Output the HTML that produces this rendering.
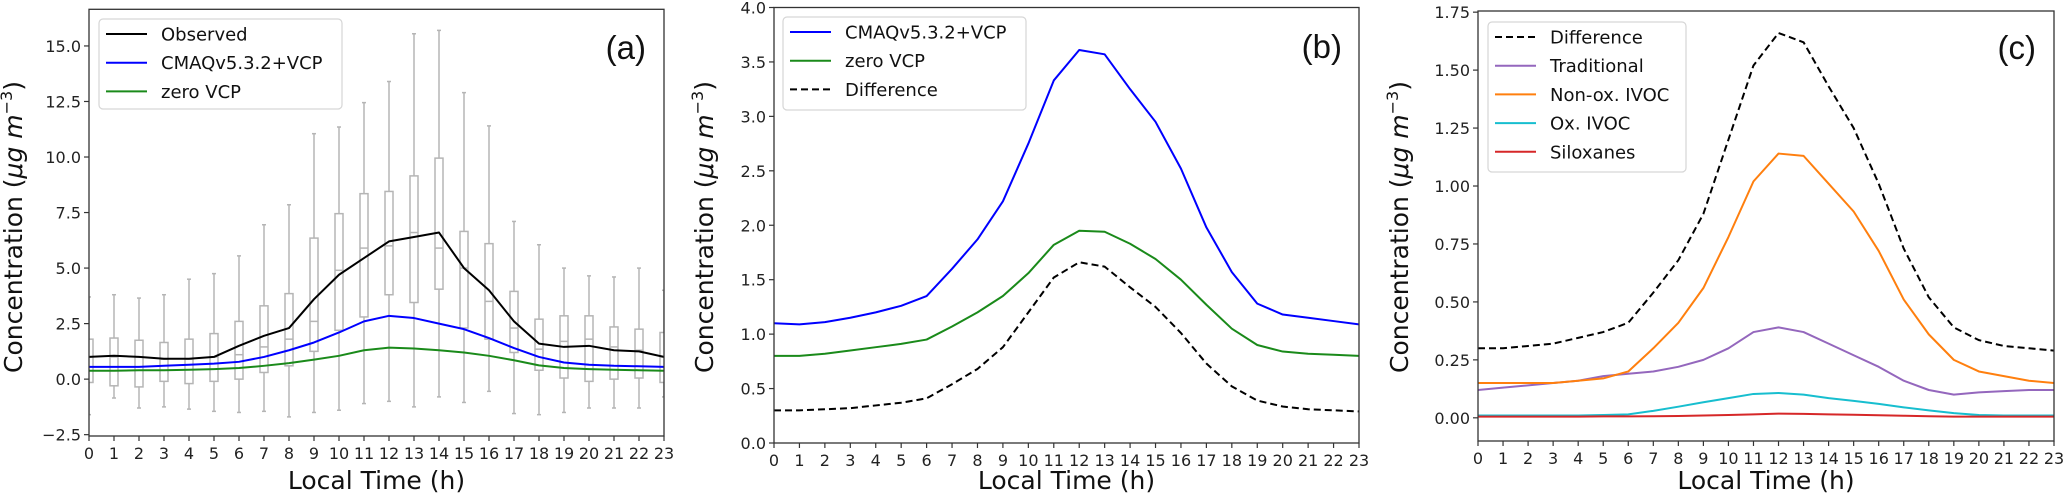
<!DOCTYPE html>
<html><head><meta charset="utf-8">
<style>
html,body{margin:0;padding:0;background:#fff;}
svg{display:block;font-family:"DejaVu Sans","Liberation Sans",sans-serif;}
</style></head>
<body>
<svg id="fig" width="2067" height="503" viewBox="0 0 2067 503" xmlns="http://www.w3.org/2000/svg"></svg>
<script>
// ---------- data ----------
const hours = [0,1,2,3,4,5,6,7,8,9,10,11,12,13,14,15,16,17,18,19,20,21,22,23];
// panel (a)
const observed = [1.0,1.05,1.0,0.92,0.92,1.0,1.5,1.95,2.3,3.6,4.7,5.45,6.2,6.4,6.6,5.0,4.0,2.6,1.6,1.45,1.5,1.3,1.25,1.0];
const cmaqA = [0.55,0.55,0.55,0.6,0.65,0.7,0.78,1.0,1.3,1.65,2.1,2.6,2.85,2.75,2.5,2.25,1.85,1.4,1.0,0.75,0.65,0.6,0.58,0.55];
const zeroA = [0.38,0.38,0.4,0.4,0.42,0.45,0.5,0.6,0.72,0.88,1.05,1.3,1.42,1.38,1.3,1.2,1.05,0.85,0.62,0.5,0.45,0.42,0.4,0.38];
const boxLow = [-1.6,-0.85,-1.3,-1.25,-1.35,-1.45,-1.5,-1.45,-1.7,-1.5,-1.4,-1.1,-1.0,-1.25,-0.8,-1.05,-0.55,-1.55,-1.6,-1.5,-1.3,-1.3,-1.3,-0.8];
const boxQ1 = [-0.15,-0.3,-0.35,-0.1,-0.2,-0.1,0.0,0.3,0.6,1.25,2.2,2.8,3.8,3.45,4.05,2.3,1.8,1.2,0.4,0.05,-0.1,0.0,0.05,-0.15];
const boxMed = [1.0,1.0,1.0,0.9,0.9,1.0,1.1,1.45,1.8,2.6,4.9,5.9,6.0,6.6,5.9,5.0,3.5,2.3,1.35,1.7,1.8,1.45,1.3,1.0];
const boxQ3 = [1.8,1.85,1.75,1.65,1.8,2.05,2.6,3.3,3.85,6.35,7.45,8.35,8.45,9.15,9.95,6.65,6.1,3.95,2.7,2.85,2.85,2.35,2.25,2.1];
const boxHigh = [3.7,3.8,3.65,3.8,4.5,4.75,5.55,6.95,7.85,11.05,11.35,12.45,13.4,15.55,15.7,12.9,11.4,7.1,6.05,5.0,4.65,4.6,5.0,4.0];
const ticksA = [-2.5,0.0,2.5,5.0,7.5,10.0,12.5,15.0];
// panel (b)
const cmaqB = [1.1,1.09,1.11,1.15,1.2,1.26,1.35,1.6,1.87,2.22,2.75,3.33,3.61,3.57,3.25,2.95,2.52,1.98,1.57,1.28,1.18,1.15,1.12,1.09];
const zeroB = [0.8,0.8,0.82,0.85,0.88,0.91,0.95,1.07,1.2,1.35,1.56,1.82,1.95,1.94,1.83,1.69,1.5,1.27,1.05,0.9,0.84,0.82,0.81,0.8];
const diff = [0.3,0.3,0.31,0.32,0.345,0.37,0.41,0.54,0.68,0.88,1.2,1.52,1.66,1.62,1.43,1.25,1.01,0.73,0.52,0.39,0.335,0.31,0.3,0.29];
const ticksB = [0.0,0.5,1.0,1.5,2.0,2.5,3.0,3.5,4.0];
// panel (c)
const traditional = [0.12,0.13,0.14,0.15,0.16,0.18,0.19,0.2,0.22,0.25,0.3,0.37,0.39,0.37,0.32,0.27,0.22,0.16,0.12,0.1,0.11,0.115,0.12,0.12];
const nonOx = [0.15,0.15,0.15,0.15,0.16,0.17,0.2,0.3,0.41,0.56,0.78,1.02,1.14,1.13,1.01,0.89,0.72,0.51,0.36,0.25,0.2,0.18,0.16,0.15];
const oxIvoc = [0.01,0.01,0.01,0.01,0.01,0.012,0.015,0.03,0.048,0.067,0.085,0.103,0.107,0.1,0.085,0.073,0.06,0.045,0.032,0.02,0.012,0.01,0.01,0.01];
const siloxanes = [0.005,0.005,0.005,0.005,0.005,0.006,0.006,0.007,0.008,0.01,0.012,0.015,0.018,0.017,0.015,0.013,0.011,0.009,0.007,0.005,0.005,0.005,0.005,0.005];
const ticksC = [0.00,0.25,0.50,0.75,1.00,1.25,1.50,1.75];

// ---------- helpers ----------
const NS = "http://www.w3.org/2000/svg";
const svg = document.getElementById('fig');
function mk(tag, attrs, parent){
  const e = document.createElementNS(NS, tag);
  for (const k in attrs) e.setAttribute(k, attrs[k]);
  (parent||svg).appendChild(e);
  return e;
}
function makeScales(x0,x1,y0px,y1px,vmin,vmax){
  return {
    x: h => x0 + (h-0)/(23-0)*(x1-x0),
    y: v => y1px - (v-vmin)/(vmax-vmin)*(y1px-y0px)
  };
}
function drawAxes(p, sc, yTicks, fmt, name){
  const g = mk('g',{});
  
  
  hours.forEach(h=>{
    const x = sc.x(h);
    mk('line',{x1:x,x2:x,y1:p.bottom,y2:p.bottom+5,stroke:'#333','stroke-width':1.2},g);
    const t = mk('text',{x:x,y:p.bottom+23,'font-size':16,'text-anchor':'middle',fill:'#222'},g);
    t.textContent = h;
    
    
  });
  yTicks.forEach(v=>{
    const y = sc.y(v);
    mk('line',{x1:p.left-5,x2:p.left,y1:y,y2:y,stroke:'#333','stroke-width':1.2},g);
    const t = mk('text',{x:p.left-8,y:y+6,'font-size':16,'text-anchor':'end',fill:'#222'},g);
    t.textContent = fmt(v);
    
    
  });
  const xl = mk('text',{x:(p.left+p.right)/2,y:489,'font-size':25,'text-anchor':'middle',fill:'#111'},g);
  xl.textContent = 'Local Time (h)';
  
  
  const yl = mk('text',{transform:`translate(${p.ylabX},227) rotate(-90)`,'font-size':25,'text-anchor':'middle',fill:'#111'},g);
  yl.innerHTML = 'Concentration (<tspan font-style="italic">μg m</tspan><tspan dy="-10" font-size="16">−3</tspan><tspan dy="10">)</tspan>';
  
  
}
function frame(p,name){
  const r = mk('rect',{x:p.left,y:p.top,width:p.right-p.left,height:p.bottom-p.top,fill:'none',stroke:'#333','stroke-width':1.3});
  
  
}
function line(sc, vals, color, name, dash, clip){
  const d = vals.map((v,i)=>(i?'L':'M')+sc.x(hours[i]).toFixed(2)+','+sc.y(v).toFixed(2)).join(' ');
  const a = {d:d,fill:'none',stroke:color,'stroke-width':2,'stroke-linejoin':'round'};
  if (dash) a['stroke-dasharray']=dash;
  if (clip) a['clip-path']='url(#'+clip+')';
  const e = mk('path',a);
  
  
}
function legend(x,y,w,h,entries,name){
  const g = mk('g',{});
  
  
  mk('rect',{x:x,y:y,width:w,height:h,rx:4,fill:'#fff','fill-opacity':0.85,stroke:'#d6d6d6','stroke-width':1.2},g);
  entries.forEach((en,i)=>{
    const cy = y+15+i*28.7;
    const a = {x1:x+7,x2:x+48,y1:cy,y2:cy,stroke:en.c,'stroke-width':2};
    if (en.dash) a['stroke-dasharray']=en.dash;
    const l = mk('line',a,g);
    
    
    const t = mk('text',{x:x+62,y:cy+6.5,'font-size':18,fill:'#111'},g);
    t.textContent = en.t;
    
    
  });
}
function panelLabel(x,y,txt){
  const t = mk('text',{x:x,y:y,'font-size':33,'text-anchor':'end',fill:'#111','font-family':'Liberation Sans, sans-serif'});
  t.textContent = txt;
  
  
}

const defs = mk('defs',{});
function clipRect(id,p){ const c = mk('clipPath',{id:id},defs); mk('rect',{x:p.left,y:p.top,width:p.right-p.left,height:p.bottom-p.top},c); }

// ---------- panel (a) ----------
const pA = {left:89,right:664,top:9.3,bottom:436,ylabX:22};
const sA = makeScales(pA.left,pA.right,pA.top,pA.bottom,-2.56,16.65);
clipRect('clipA',pA);
const gBox = mk('g',{'clip-path':'url(#clipA)',stroke:'#b5b5b5','stroke-width':1.5,fill:'none'});


hours.forEach((h,i)=>{
  const x = sA.x(h), bw = 4;
  const b = mk('g',{},gBox);
  
  
  mk('line',{x1:x,x2:x,y1:sA.y(boxLow[i]),y2:sA.y(boxQ1[i])},b);
  mk('line',{x1:x,x2:x,y1:sA.y(boxQ3[i]),y2:sA.y(boxHigh[i])},b);
  mk('line',{x1:x-2,x2:x+2,y1:sA.y(boxLow[i]),y2:sA.y(boxLow[i])},b);
  mk('line',{x1:x-2,x2:x+2,y1:sA.y(boxHigh[i]),y2:sA.y(boxHigh[i])},b);
  mk('rect',{x:x-bw,y:sA.y(boxQ3[i]),width:2*bw,height:sA.y(boxQ1[i])-sA.y(boxQ3[i])},b);
  mk('line',{x1:x-bw,x2:x+bw,y1:sA.y(boxMed[i]),y2:sA.y(boxMed[i])},b);
});
line(sA, zeroA, '#1a8a1a', 'zero-vcp-line-a', null, 'clipA');
line(sA, cmaqA, '#0000ff', 'cmaq-vcp-line-a', null, 'clipA');
line(sA, observed, '#000000', 'observed-line', null, 'clipA');
frame(pA,'panel-a');
drawAxes(pA, sA, ticksA, v=>v.toFixed(1).replace('-','−'), 'panel-a');
legend(99,19,243,90,[{t:'Observed',c:'#000'},{t:'CMAQv5.3.2+VCP',c:'#0000ff'},{t:'zero VCP',c:'#1a8a1a'}],'legend-a');
panelLabel(646,59,'(a)');

// ---------- panel (b) ----------
const pB = {left:774,right:1359,top:7.5,bottom:443,ylabX:713};
const sB = makeScales(pB.left,pB.right,pB.top,pB.bottom,0,4);
clipRect('clipB',pB);
line(sB, cmaqB, '#0000ff', 'cmaq-vcp-line-b', null, 'clipB');
line(sB, zeroB, '#1a8a1a', 'zero-vcp-line-b', null, 'clipB');
line(sB, diff, '#000', 'difference-line-b', '7,4', 'clipB');
frame(pB,'panel-b');
drawAxes(pB, sB, ticksB, v=>v.toFixed(1), 'panel-b');
legend(783,17,243,93,[{t:'CMAQv5.3.2+VCP',c:'#0000ff'},{t:'zero VCP',c:'#1a8a1a'},{t:'Difference',c:'#000',dash:'7,4'}],'legend-b');
panelLabel(1342,58,'(b)');

// ---------- panel (c) ----------
const pC = {left:1478,right:2054,top:11,bottom:441,ylabX:1408};
const sC = makeScales(pC.left,pC.right,pC.top,pC.bottom,-0.1,1.755);
clipRect('clipC',pC);
line(sC, diff, '#000', 'difference-line-c', '7,4', 'clipC');
line(sC, traditional, '#9467bd', 'traditional-line', null, 'clipC');
line(sC, nonOx, '#ff7f0e', 'non-ox-ivoc-line', null, 'clipC');
line(sC, oxIvoc, '#17becf', 'ox-ivoc-line', null, 'clipC');
line(sC, siloxanes, '#d62728', 'siloxanes-line', null, 'clipC');
frame(pC,'panel-c');
drawAxes(pC, sC, ticksC, v=>v.toFixed(2), 'panel-c');
legend(1488,22,198,150,[{t:'Difference',c:'#000',dash:'7,4'},{t:'Traditional',c:'#9467bd'},{t:'Non-ox. IVOC',c:'#ff7f0e'},{t:'Ox. IVOC',c:'#17becf'},{t:'Siloxanes',c:'#d62728'}],'legend-c');
panelLabel(2036,59,'(c)');
</script>
</body></html>
